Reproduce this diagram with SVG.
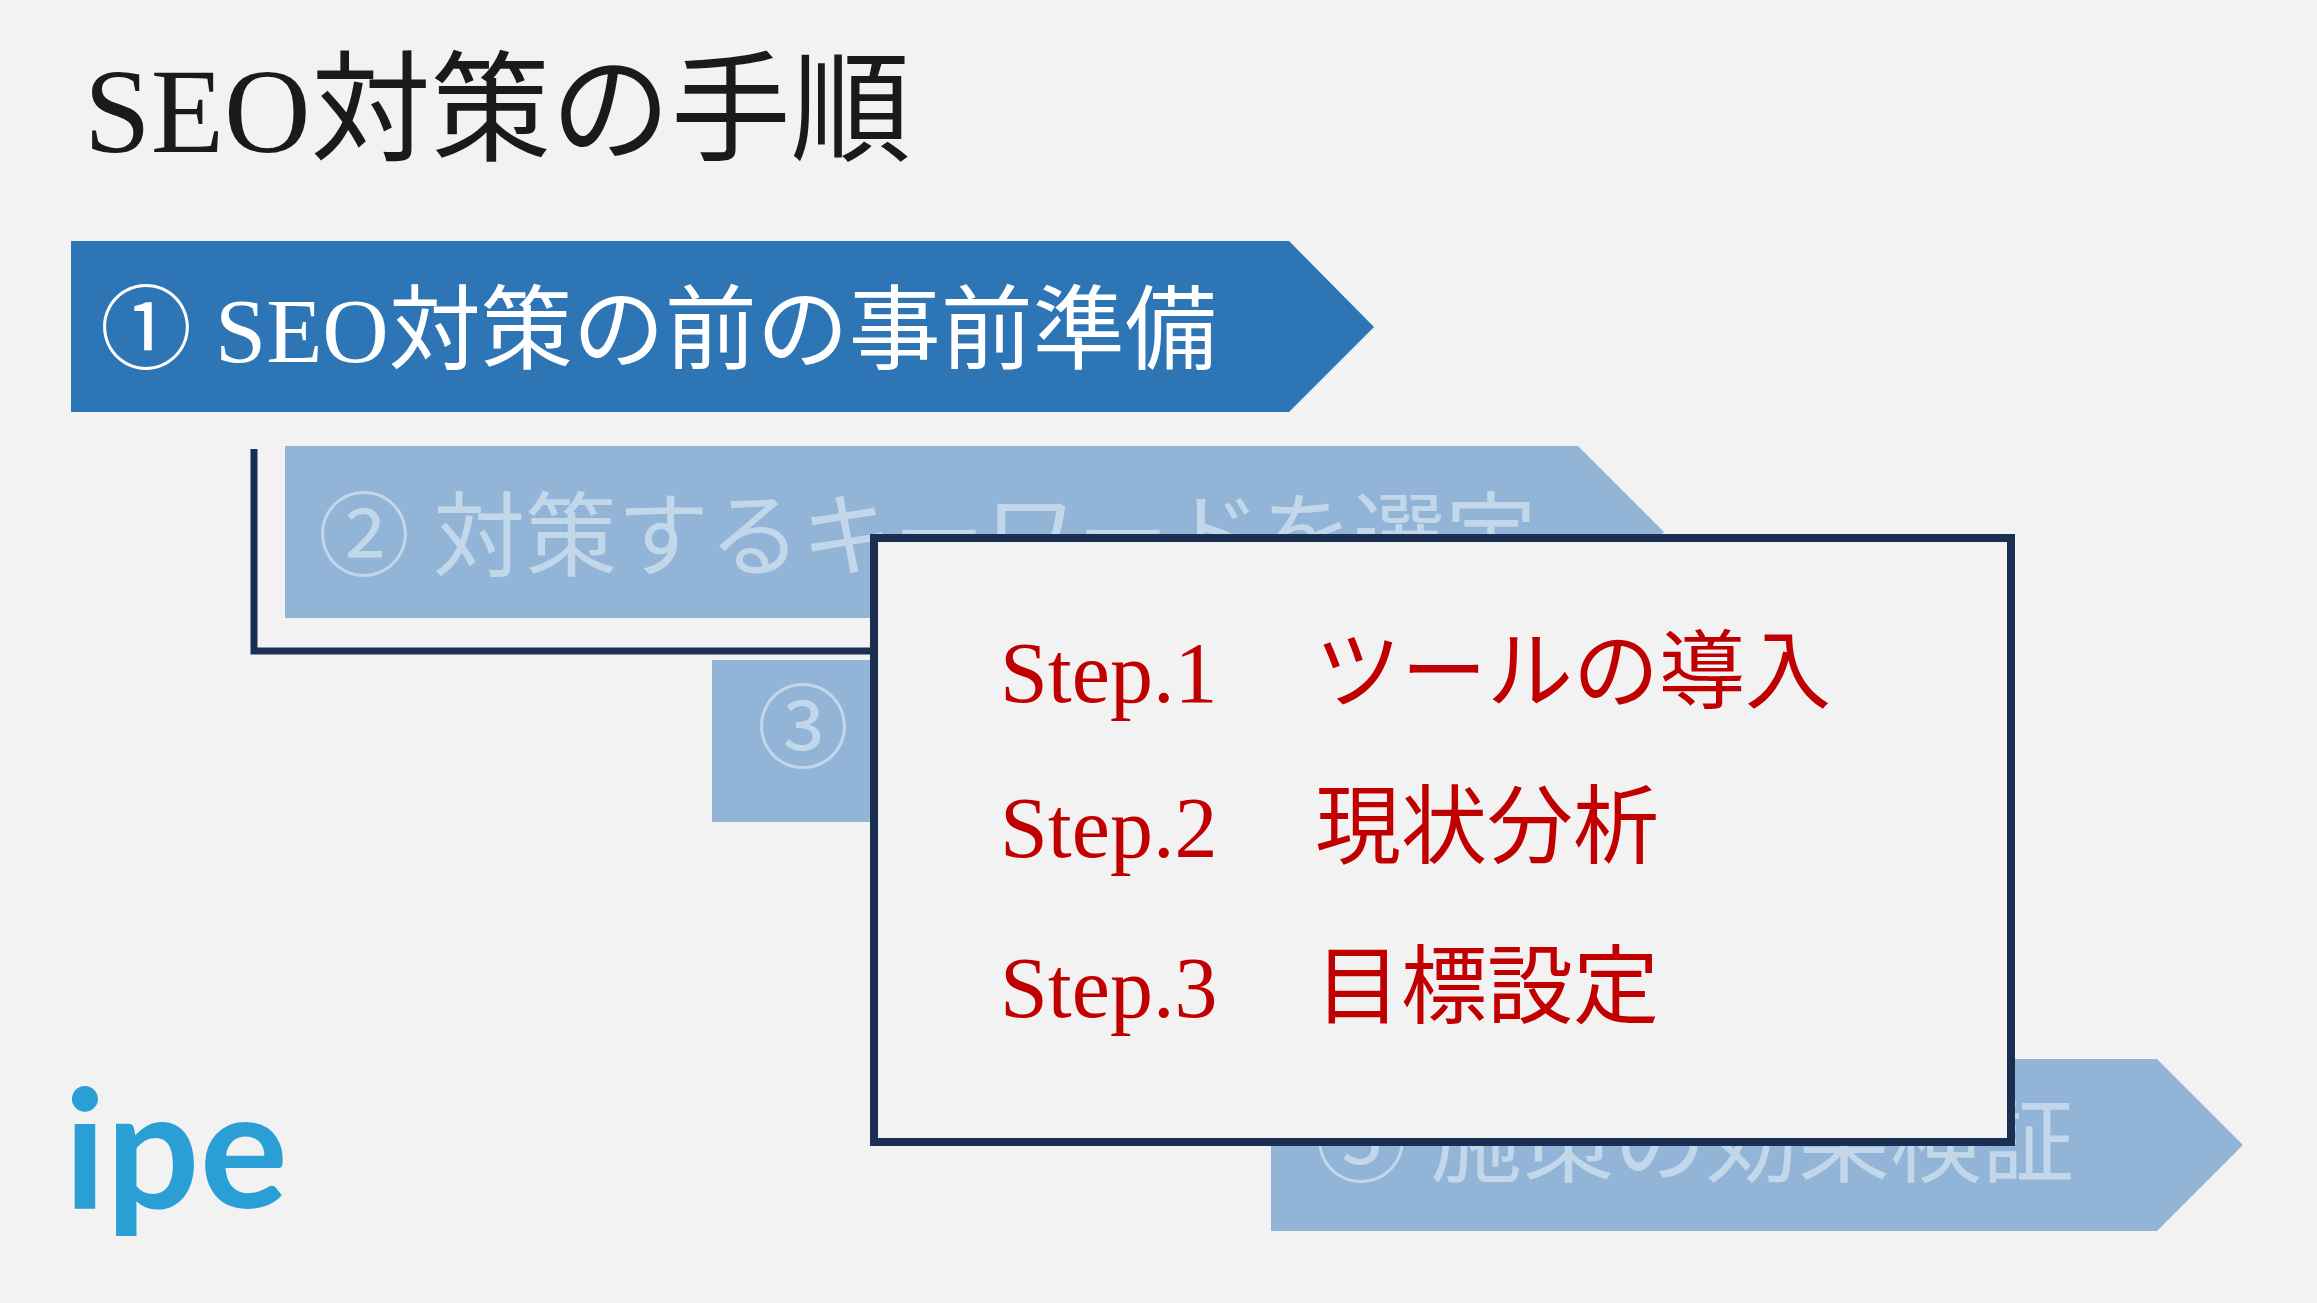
<svg xmlns="http://www.w3.org/2000/svg" width="2317" height="1303" viewBox="0 0 2317 1303">
<style>
.t{font-family:"Liberation Serif","Noto Sans CJK JP",serif}
.lb{fill:#92b5d7}
.lt{fill:#c3d7ea}
.st{fill:#c00000;font-size:86px}
</style>
<rect width="2317" height="1303" fill="#f2f2f2"/>
<text class="t" x="84" y="152" font-size="120" fill="#1a1a1a">SEO対策の手順</text>
<g id="step5"><polygon class="lb" points="1271,1059 2157,1059 2243,1145 2157,1231 1271,1231"/>
<text class="t lt" x="1315" y="1175" font-size="92">⑤ 施策の効果検証</text></g>
<g id="step3"><rect class="lb" x="712" y="660" width="300" height="162"/>
<text class="t lt" x="757" y="761" font-size="92">③</text></g>
<g id="step2"><polygon class="lb" points="285,446 1578,446 1664,532 1578,618 285,618"/>
<text class="t lt" x="318" y="569" font-size="92">② 対策するキーワードを選定</text></g>
<g id="connectors"><polyline points="254,449 254,651 872,651" fill="none" stroke="#1b2f52" stroke-width="7"/></g>
<g id="step1"><polygon fill="#2e75b6" points="71,241 1289,241 1374,327 1289,412 71,412"/>
<text class="t" x="100" y="362" font-size="92" fill="#fff">① SEO対策の前の事前準備</text></g>
<g id="box"><rect x="874" y="538" width="1137" height="604" fill="#f2f2f2" stroke="#1b2f52" stroke-width="8"/>
<text class="t st" x="1000" y="702">Step.1</text><text class="t st" x="1315" y="702">ツールの導入</text>
<text class="t st" x="1000" y="857">Step.2</text><text class="t st" x="1315" y="857">現状分析</text>
<text class="t st" x="1000" y="1017">Step.3</text><text class="t st" x="1315" y="1017">目標設定</text></g>
<g id="logo"><text x="64" y="1208" font-family="Lato,'Noto Sans',sans-serif" font-weight="bold" font-size="165" fill="#2a9fd6">ipe</text></g>
</svg>
